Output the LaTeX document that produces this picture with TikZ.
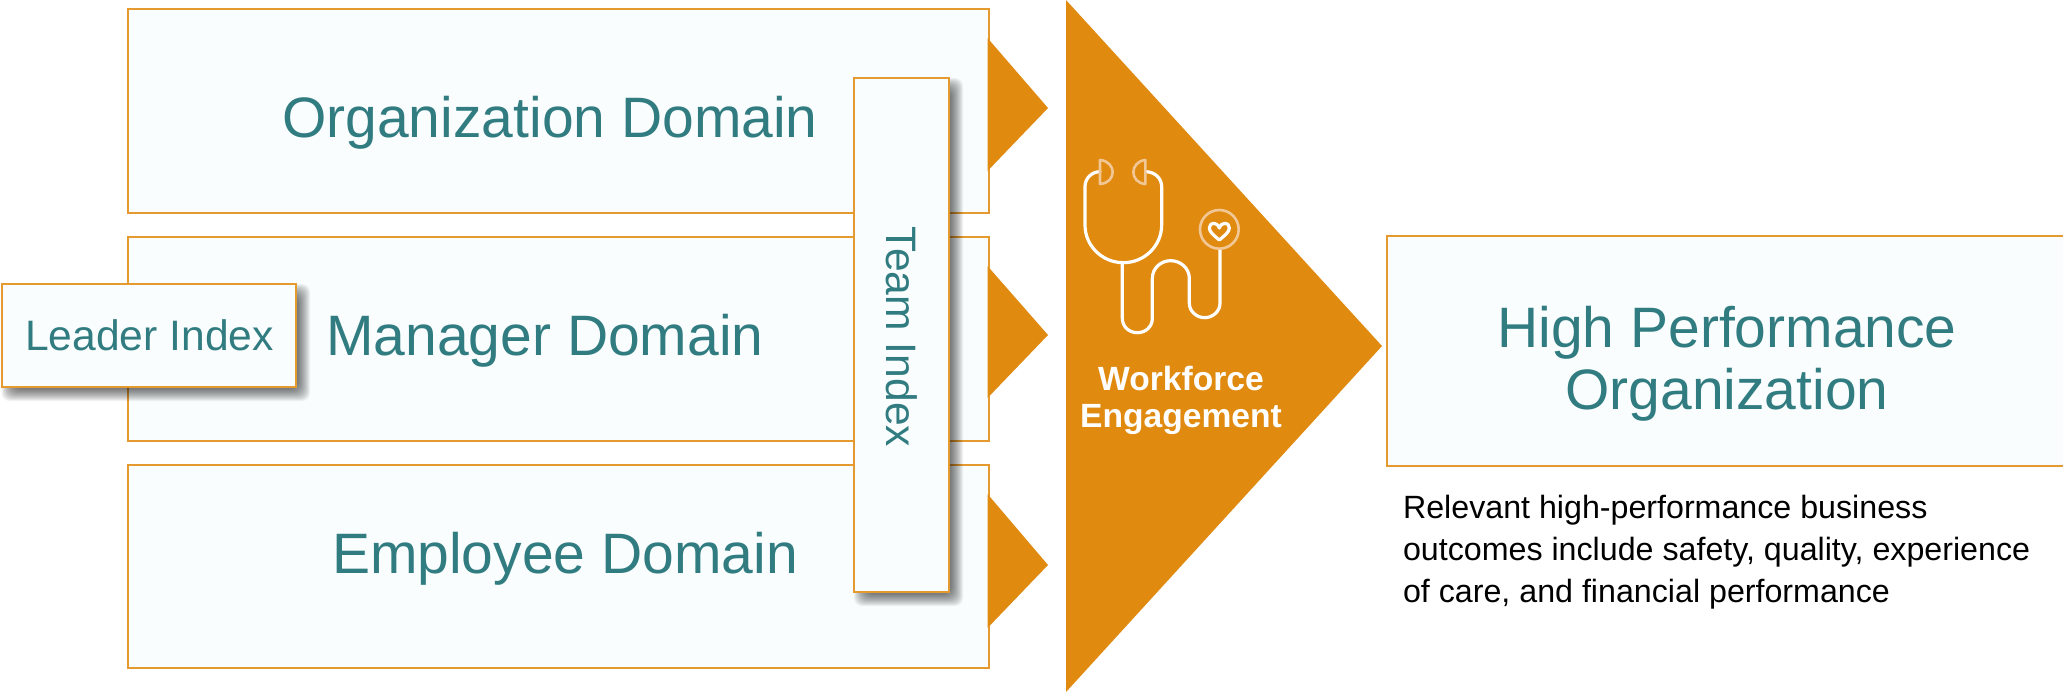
\documentclass[tikz,border=0pt]{standalone}
\usepackage{fontspec}
\setmainfont{Liberation Sans}
\definecolor{orng}{HTML}{E08A10}
\definecolor{edge}{HTML}{E59A30}
\definecolor{boxfill}{HTML}{FAFDFE}
\definecolor{teal}{HTML}{317C80}
\definecolor{pale}{HTML}{F2C796}
\newcommand{\softshadow}[4]{%
  \foreach \g in {7,6,...,-5}{%
    \fill[black,opacity=.05,rounded corners=4pt]
      ({#1+7-\g},{#2+7-\g}) rectangle ({#3+7+\g},{#4+7+\g});}}
\begin{document}
\begin{tikzpicture}[x=0.5pt,y=-0.5pt,
  dombox/.style={draw=edge,fill=boxfill,line width=1pt},
  ttl/.style={text=teal,font=\fontsize{28.5}{31}\selectfont},
  idx/.style={text=teal,font=\fontsize{21.3}{25}\selectfont},
  orngfill/.style={fill=orng,draw=none},
  tube/.style={draw=white,line width=1.6pt,line cap=round,line join=round},
  ear/.style={draw=pale,line width=1.3pt,line join=round}]
\useasboundingbox (0,0) rectangle (2063,692);
\fill[white] (0,0) rectangle (2063,692);
\filldraw[dombox] (127.5,9) rectangle (988.5,212.5);
\filldraw[dombox] (127.5,237) rectangle (988.5,440.5);
\filldraw[dombox] (127.5,465) rectangle (988.5,667.5);
\fill[orngfill] (987.5,38) -- (1048,108) -- (987.5,171) -- cycle;
\fill[orngfill] (987.5,266) -- (1048,335) -- (987.5,398) -- cycle;
\fill[orngfill] (987.5,494) -- (1048,565) -- (987.5,628) -- cycle;
\fill[orngfill] (1066,0) -- (1382,346) -- (1066,692) -- cycle;
\node[ttl] (org) at (550,123) {Organization Domain};
\node[ttl] (mgr) at (545,341) {Manager Domain};
\node[ttl] (emp) at (565,559) {Employee Domain};
\softshadow{854}{78}{949}{592}
\filldraw[dombox] (854,78) rectangle (949,592);
\node[idx,rotate=-90] (team) at (902,337) {Team Index};
\softshadow{1.5}{284}{296}{387}
\filldraw[dombox] (1.5,284) rectangle (296,387);
\node[idx] (leader) at (149.5,335) {Leader Index};
\filldraw[dombox] (1387,235.5) rectangle (2070,466);
\node[ttl,align=center] (hpo) at (1727,364) {High Performance\\Organization};
\node[anchor=north west,align=left,font=\fontsize{16.1}{21}\selectfont] (note) at (1396,488) {Relevant high-performance business\\outcomes include safety, quality, experience\\of care, and financial performance};
\node[text=white,font=\bfseries\fontsize{16.8}{18.5}\selectfont,align=center] (we) at (1181,400) {Workforce\\Engagement};
% stethoscope icon
\begin{scope}[shift={(1060,150)},x=0.16667pt,y=-0.16667pt]
  \draw[tube] (120,65) .. controls (95,65) and (75,85) .. (75,110) -- (75,225)
    .. controls (75,287) and (126,338) .. (190,338)
    .. controls (254,338) and (305,287) .. (305,225) -- (305,110)
    .. controls (305,85) and (285,65) .. (256,65);
  \draw[tube] (187,338) -- (187,505)
    .. controls (187,530) and (207,548) .. (232,548)
    .. controls (257,548) and (277,530) .. (277,505) -- (277,385)
    .. controls (277,355) and (302,332) .. (332,332)
    .. controls (362,332) and (388,355) .. (388,385) -- (388,460)
    .. controls (388,484) and (410,503) .. (434,503)
    .. controls (458,503) and (480,484) .. (480,460) -- (480,298);
  \draw[ear] (120,30) .. controls (145,32) and (158,50) .. (158,66)
    .. controls (158,84) and (145,100) .. (120,102) -- cycle;
  \draw[ear] (256,30) .. controls (233,32) and (220,50) .. (220,66)
    .. controls (220,84) and (233,100) .. (256,102) -- cycle;
  \draw[ear] (478,238) circle[radius=58];
  \draw[tube] (478,270) .. controls (460,255) and (448,245) .. (448,234)
    .. controls (448,215) and (472,215) .. (478,234)
    .. controls (484,215) and (508,215) .. (508,234)
    .. controls (508,245) and (496,255) .. (478,270) -- cycle;
\end{scope}
\end{tikzpicture}
\end{document}
